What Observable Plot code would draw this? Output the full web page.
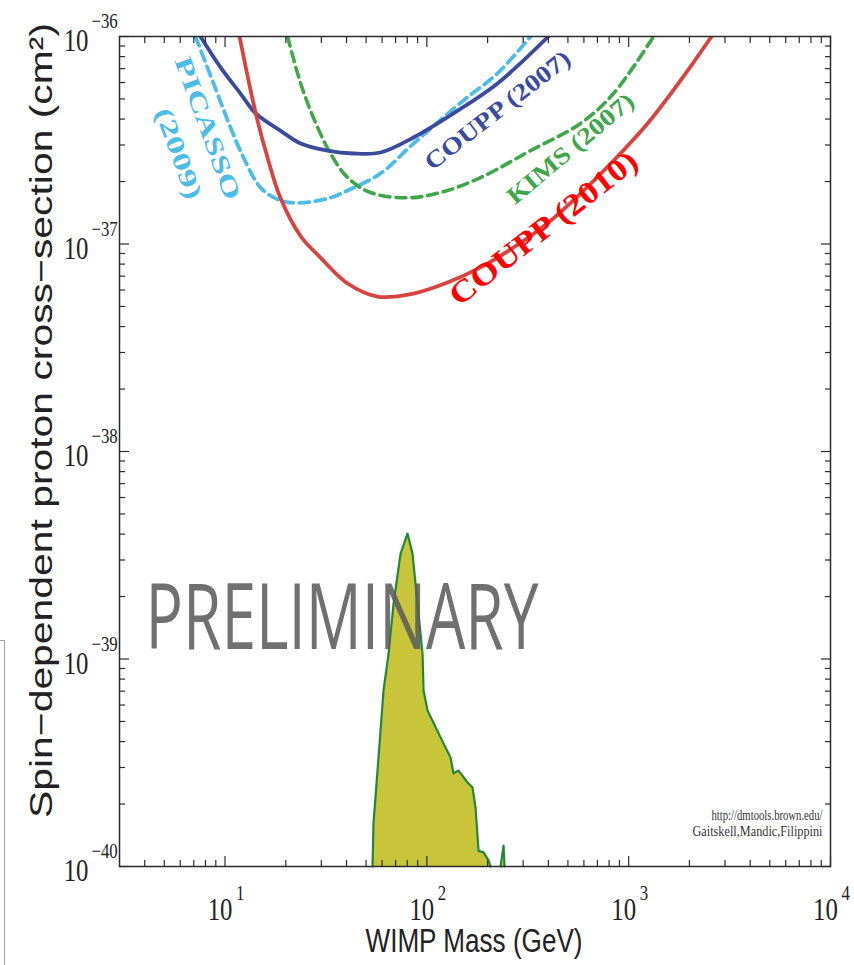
<!DOCTYPE html>
<html>
<head>
<meta charset="utf-8">
<script src="https://cdn.jsdelivr.net/npm/d3@7"></script>
<script src="https://cdn.jsdelivr.net/npm/@observablehq/plot@0.6"></script>
<style>
  html, body { margin: 0; padding: 0; background: #fff; }
  #chart { position: relative; width: 854px; height: 965px; overflow: hidden; }
  #chart svg { display: block; }
  #edge { position: absolute; left: 0; top: 640px; width: 4px; height: 330px;
          border-top: 1.5px solid #a0a0a0; border-right: 1.5px solid #a0a0a0; }
</style>
</head>
<body>
<div id="chart"><div id="edge"></div></div>
<script>
// Spin-dependent WIMP-proton cross-section limits vs WIMP mass (GeV, cm^2)

// COUPP (2010) exclusion curve
const coupp2010Mass  = [11.8, 14.2, 16.4, 18.8, 23.7, 29.7, 40.5, 57.0, 85.9, 126.5, 184.5, 268.8, 396, 577, 841, 1241, 1808, 2575];
const coupp2010Sigma = [1.0e-36, 4.26e-37, 2.52e-37, 1.67e-37, 1.09e-37, 8.6e-38, 6.45e-38, 5.58e-38, 5.77e-38, 6.52e-38, 7.71e-38, 9.62e-38, 1.26e-37, 1.75e-37, 2.52e-37, 3.81e-37, 6.14e-37, 1.0e-36];

// COUPP (2007)
const coupp2007Mass  = [7.56, 9.50, 11.93, 14.2, 18.8, 23.7, 32.2, 43.4, 59.0, 85.9, 135.5, 223.9, 400];
const coupp2007Sigma = [1.0e-36, 7.10e-37, 5.31e-37, 4.26e-37, 3.52e-37, 3.05e-37, 2.82e-37, 2.73e-37, 2.76e-37, 3.26e-37, 4.26e-37, 5.94e-37, 1.0e-36];

// PICASSO (2009)
const picassoMass  = [7.14, 8.77, 10.65, 12.35, 15.0, 18.8, 23.7, 33.3, 40.5, 59.0, 85.9, 152, 223.9, 326.5];
const picassoSigma = [1.0e-36, 5.94e-37, 3.64e-37, 2.61e-37, 1.87e-37, 1.62e-37, 1.58e-37, 1.67e-37, 1.81e-37, 2.19e-37, 3.05e-37, 4.92e-37, 6.64e-37, 1.0e-36];

// KIMS (2007)
const kimsMass  = [20.4, 23.7, 27.4, 33.3, 40.5, 52.6, 80.2, 116.9, 184.5, 326.5, 577, 841, 1328];
const kimsSigma = [1.0e-36, 5.94e-37, 4.07e-37, 2.73e-37, 2.09e-37, 1.77e-37, 1.67e-37, 1.77e-37, 2.09e-37, 2.82e-37, 3.81e-37, 5.31e-37, 1.0e-36];

// Allowed region (filled) and the small isolated sliver beside it
const regionMass  = [53.8, 54.4, 57.6, 61.0, 64.6, 68.4, 74.1, 80.2, 84.9, 89.9, 95.2, 96.3, 100.8, 116.9, 131.0, 135.6, 143.6, 159.1, 168.4, 174.3, 180.4, 190.9, 202.1, 206.8];
const regionSigma = [1.0e-40, 1.61e-40, 3.35e-40, 7.05e-40, 1.06e-39, 1.85e-39, 3.22e-39, 4.02e-39, 3.22e-39, 1.85e-39, 1.06e-39, 7.05e-40, 5.65e-40, 4.19e-40, 3.35e-40, 2.81e-40, 2.90e-40, 2.54e-40, 2.40e-40, 1.92e-40, 1.19e-40, 1.17e-40, 1.07e-40, 1.0e-40];
const sliverMass  = [231.8, 239.9, 242.6];
const sliverSigma = [1.0e-40, 1.26e-40, 1.0e-40];

// Axis ticks and their labels
const xMajor = [10, 100, 1000, 10000];
const xExp   = ["1", "2", "3", "4"];
const xMinor = [4, 5, 6, 7, 8, 9, 20, 30, 40, 50, 60, 70, 80, 90, 200, 300, 400, 500, 600, 700, 800, 900, 2000, 3000, 4000, 5000, 6000, 7000, 8000, 9000];
const yMajor = [1e-40, 1e-39, 1e-38, 1e-37, 1e-36];
const yExp   = ["\u221240", "\u221239", "\u221238", "\u221237", "\u221236"];
const yMinor = [2e-40, 3e-40, 4e-40, 5e-40, 6e-40, 7e-40, 8e-40, 9e-40,
                2e-39, 3e-39, 4e-39, 5e-39, 6e-39, 7e-39, 8e-39, 9e-39,
                2e-38, 3e-38, 4e-38, 5e-38, 6e-38, 7e-38, 8e-38, 9e-38,
                2e-37, 3e-37, 4e-37, 5e-37, 6e-37, 7e-37, 8e-37, 9e-37];

// Text strings
const xTitle = "WIMP Mass (GeV)";
const yTitle = "Spin\u2212dependent proton cross\u2212section (cm\u00b2)";
const creditUrl = "http://dmtools.brown.edu/";
const creditNames = "Gaitskell,Mandic,Filippini";
const watermark = "PRELIMINARY";

const serif = "'Liberation Serif', 'Times New Roman', 'DejaVu Serif', serif";
const sans = "'Liberation Sans', Arial, Helvetica, sans-serif";
const ink = "#2b2b2b";

const tickAxes = [
  ["bottom", xMajor, 10], ["bottom", xMinor, 6], ["top", xMajor, 10], ["top", xMinor, 6]
].map(([anchor, ticks, size]) => Plot.axisX({anchor, ticks, tickSize: -size, tickFormat: () => "", label: null, stroke: ink, strokeWidth: 1.2}))
 .concat([
  ["left", yMajor, 10], ["left", yMinor, 6], ["right", yMajor, 10], ["right", yMinor, 6]
].map(([anchor, ticks, size]) => Plot.axisY({anchor, ticks, tickSize: -size, tickFormat: () => "", label: null, stroke: ink, strokeWidth: 1.2})));

const chart = Plot.plot({
  width: 854,
  height: 965,
  marginLeft: 119,
  marginRight: 24,
  marginTop: 36,
  marginBottom: 99,
  x: {type: "log", domain: [3, 10000]},
  y: {type: "log", domain: [1e-40, 1e-36]},
  style: {background: "#fff", color: ink, fontFamily: serif},
  marks: [
    // filled region
    Plot.areaY(regionSigma, {x: regionMass, y1: 1e-40, y2: regionSigma, fill: "#c9c53a"}),
    Plot.areaY(sliverSigma, {x: sliverMass, y1: 1e-40, y2: sliverSigma, fill: "#c9c53a"}),
    Plot.line(regionSigma, {x: regionMass, y: regionSigma, stroke: "#22873b", strokeWidth: 2.2}),
    Plot.line(sliverSigma, {x: sliverMass, y: sliverSigma, stroke: "#22873b", strokeWidth: 2.2}),

    // exclusion curves
    Plot.line(picassoSigma, {x: picassoMass, y: picassoSigma, stroke: "#4dbde6", strokeWidth: 3.8, strokeDasharray: "10,6", curve: "catmull-rom", clip: true}),
    Plot.line(kimsSigma, {x: kimsMass, y: kimsSigma, stroke: "#3fa64c", strokeWidth: 3.6, strokeDasharray: "10,6", curve: "catmull-rom", clip: true}),
    Plot.line(coupp2007Sigma, {x: coupp2007Mass, y: coupp2007Sigma, stroke: "#3b4a9c", strokeWidth: 3.8, curve: "catmull-rom", clip: true}),
    Plot.line(coupp2010Sigma, {x: coupp2010Mass, y: coupp2010Sigma, stroke: "#d8433f", strokeWidth: 3.8, curve: "catmull-rom", clip: true}),

    // curve labels
    Plot.text(["PICASSO"], {x: [8.19], y: [3.61e-37], rotate: 70, fontSize: 25, fontWeight: "bold", fill: "#4dbde6"}),
    Plot.text(["(2009)"], {x: [5.88], y: [2.73e-37], rotate: 70, fontSize: 25, fontWeight: "bold", fill: "#4dbde6"}),
    Plot.text(["COUPP (2007)"], {x: [224], y: [4.40e-37], rotate: -38, fontSize: 24, fontWeight: "bold", fill: "#3b4a9c"}),
    Plot.text(["KIMS (2007)"], {x: [515], y: [2.88e-37], rotate: -40, fontSize: 24, fontWeight: "bold", fill: "#3fa64c"}),
    Plot.text(["COUPP (2010)"], {x: [378.6], y: [1.19e-37], rotate: -38, fontSize: 31, fontWeight: "bold", fill: "#ff0000"}),

    // watermark
    Plot.text([watermark], {x: [38], y: [1.556e-39], fontSize: 92, fontFamily: "'Open Sans', 'Noto Sans', sans-serif", fill: "#5c5c5c", fillOpacity: 0.88}),

    // credit
    Plot.text([creditUrl], {frameAnchor: "bottom-right", textAnchor: "end", lineAnchor: "middle", dx: -8, dy: -50.5, fontSize: 14, fill: "#333"}),
    Plot.text([creditNames], {frameAnchor: "bottom-right", textAnchor: "end", lineAnchor: "middle", dx: -8, dy: -34.5, fontSize: 14, fill: "#333"}),

    Plot.frame({stroke: ink, strokeWidth: 1.5}),
    ...tickAxes,

    // tick labels: 10 with a raised exponent
    Plot.text(xMajor, {x: d => d, frameAnchor: "bottom", text: () => "10", textAnchor: "middle", lineAnchor: "middle", dx: -5, dy: 44, fontSize: 31, fill: "#222"}),
    Plot.text(xMajor, {x: d => d, frameAnchor: "bottom", text: (d, i) => xExp[i], textAnchor: "start", lineAnchor: "middle", dx: 11, dy: 27, fontSize: 21, fill: "#222"}),
    Plot.text(yMajor, {y: d => d, frameAnchor: "left", text: () => "10", textAnchor: "end", lineAnchor: "middle", dx: -31, dy: 5, fontSize: 31, fill: "#222"}),
    Plot.text(yMajor, {y: d => d, frameAnchor: "left", text: (d, i) => yExp[i], textAnchor: "start", lineAnchor: "middle", dx: -28, dy: -15, fontSize: 21, fill: "#222"}),

    // axis titles
    Plot.text([xTitle], {frameAnchor: "bottom", textAnchor: "middle", lineAnchor: "middle", dx: -1, dy: 75, fontSize: 33, fontFamily: sans, fill: "#222"}),
    Plot.text([yTitle], {frameAnchor: "left", textAnchor: "middle", lineAnchor: "middle", rotate: -90, dx: -78, dy: -31, fontSize: 32, fontFamily: sans, fill: "#222"})
  ]
});

const root = document.getElementById("chart");
root.insertBefore(chart, root.firstChild);

// narrow, tall lettering: squeeze texts to set lengths
const fixedLength = new Map([
  ["PICASSO", 150], ["(2009)", 95], ["COUPP (2007)", 178], ["KIMS (2007)", 158],
  ["COUPP (2010)", 230], [watermark, 393], [creditUrl, 111], [creditNames, 130],
  [xTitle, 217], [yTitle, 795]
]);
const tickTexts = new Set(["10", ...xExp, ...yExp]);
d3.select(chart).selectAll("text").each(function () {
  const s = this.textContent;
  let L = null;
  if (fixedLength.has(s)) L = fixedLength.get(s);
  else if (tickTexts.has(s)) L = 0.8 * this.getComputedTextLength();
  if (L) {
    this.setAttribute("textLength", L);
    this.setAttribute("lengthAdjust", "spacingAndGlyphs");
  }
});
</script>
</body>
</html>
